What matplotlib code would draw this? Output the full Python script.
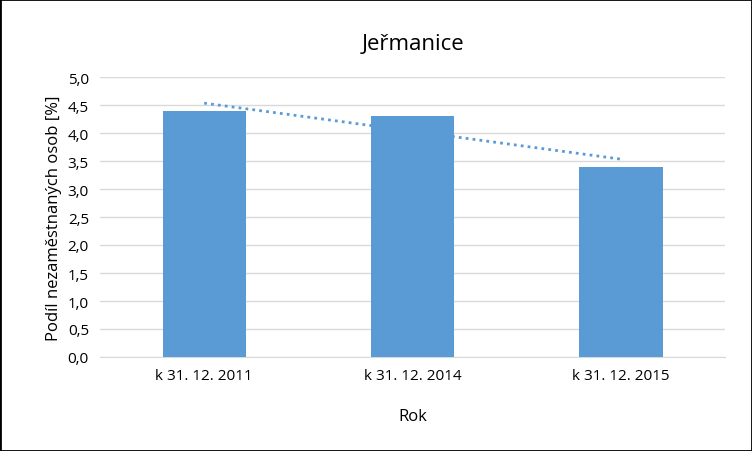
import matplotlib.pyplot as plt
import numpy as np

plt.rcParams["font.family"] = "Open Sans"

kategorie = ["k 31. 12. 2011", "k 31. 12. 2014", "k 31. 12. 2015"]
podil = [4.4, 4.3, 3.4]
osa_y = [0.0, 0.5, 1.0, 1.5, 2.0, 2.5, 3.0, 3.5, 4.0, 4.5, 5.0]

fig = plt.figure(figsize=(7.52, 4.52), dpi=100)
ax = fig.add_axes([100 / 752, 1 - 358 / 452, 625 / 752, 280 / 452])

x = np.arange(len(kategorie))
ax.bar(x, podil, width=0.4, color="#5b9bd5", zorder=3)

# lineární trend
k, q = np.polyfit(x, podil, 1)
ax.plot(x, k * x + q, linestyle=(0, (1, 1.5)), color="#5b9bd5", linewidth=2, zorder=4)

ax.set_xlim(-0.5, 2.5)
ax.set_ylim(0, 5)
ax.set_yticks(osa_y)
ax.set_yticklabels([f"{v:.1f}".replace(".", ",") for v in osa_y])
ax.set_xticks(x)
ax.set_xticklabels(kategorie)
ax.grid(axis="y", color="#d9d9d9", linewidth=1, zorder=0)
for s in ["top", "right", "left"]:
    ax.spines[s].set_visible(False)
ax.spines["bottom"].set_color("#d9d9d9")
ax.tick_params(length=0, labelsize=11, colors="#000000", pad=8)

ax.set_title("Jeřmanice", fontsize=16, pad=20)
ax.set_xlabel("Rok", fontsize=12, labelpad=18)
ax.set_ylabel("Podíl nezaměstnaných osob [%]", fontsize=12)

fig.patches.append(plt.Rectangle((0, 0), 1, 1, transform=fig.transFigure,
                                 fill=False, edgecolor="black", linewidth=2))
fig.savefig("out.png", dpi=100)
